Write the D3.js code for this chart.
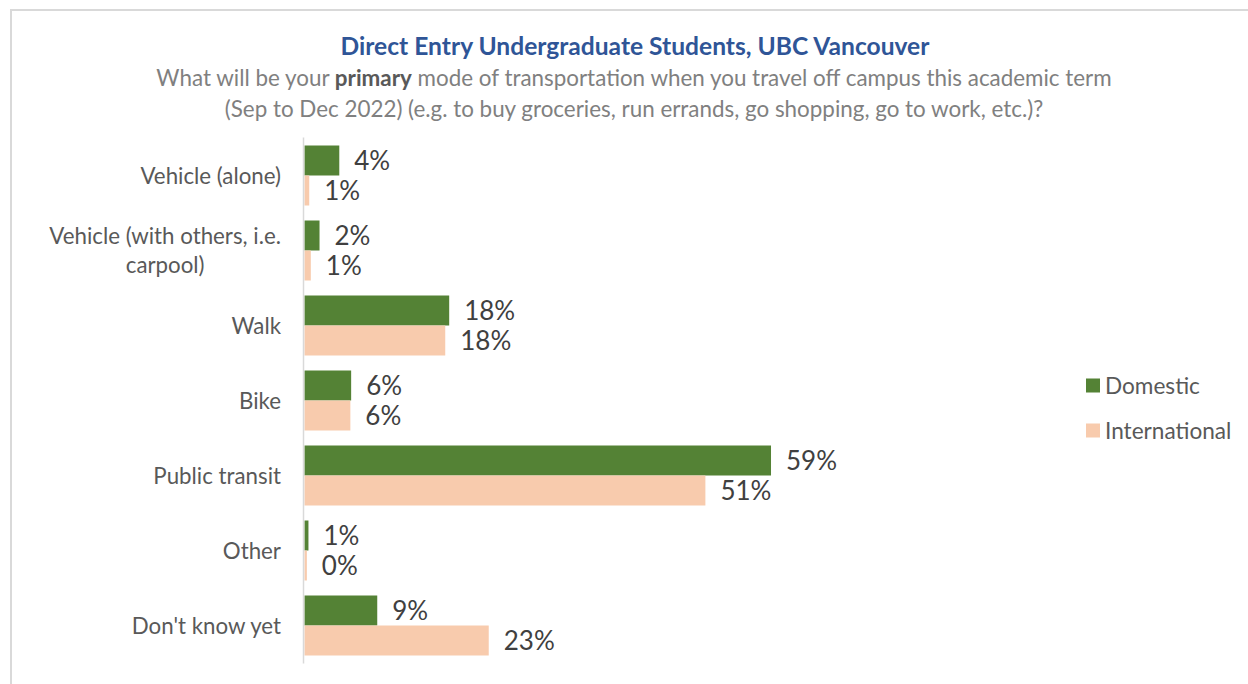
<!DOCTYPE html>
<html>
<head>
<meta charset="utf-8">
<script src="https://cdn.jsdelivr.net/npm/d3@7"></script>
<style>
  html, body { margin: 0; padding: 0; background: #fff; }
  svg { display: block; }
</style>
</head>
<body>
<svg id="chart" width="1248" height="684"></svg>
<script>
const categories = ["Vehicle (alone)", "Vehicle (with others, i.e. carpool)", "Walk", "Bike", "Public transit", "Other", "Don't know yet"];
const categoryLines = [["Vehicle (alone)"], ["Vehicle (with others, i.e.", "carpool)"], ["Walk"], ["Bike"], ["Public transit"], ["Other"], ["Don't know yet"]];
const seriesNames = ["Domestic", "International"];
const domestic = [4.4, 1.9, 18.3, 5.9, 59.0, 0.5, 9.2];
const international = [0.6, 0.8, 17.8, 5.8, 50.7, 0.3, 23.3];
const seriesColors = ["#548235", "#f8cbad"];
const titleText = "Direct Entry Undergraduate Students, UBC Vancouver";
const subtitle1 = ["What will be your ", "primary", " mode of transportation when you travel off campus this academic term"];
const subtitle2 = "(Sep to Dec 2022) (e.g. to buy groceries, run errands, go shopping, go to work, etc.)?";

const FONT = "Lato, 'Open Sans', sans-serif";
const svg = d3.select("#chart");

// border
svg.append("rect").attr("x", 11).attr("y", 10).attr("width", 1300).attr("height", 700)
  .attr("fill", "#fff").attr("stroke", "#d9d9d9").attr("stroke-width", 2);

// titles
svg.append("text").attr("x", 635).attr("y", 55).attr("text-anchor", "middle")
  .attr("font-family", FONT).attr("font-weight", "bold").attr("font-size", 24.6)
  .attr("fill", "#2f5597").text(titleText);

const st1 = svg.append("text").attr("x", 634).attr("y", 86).attr("text-anchor", "middle")
  .attr("font-family", FONT).attr("font-size", 22.4).attr("fill", "#808080");
subtitle1.forEach((s, i) => {
  st1.append("tspan").attr("font-weight", i === 1 ? "bold" : "normal")
    .attr("fill", i === 1 ? "#595959" : "#808080").text(s);
});
svg.append("text").attr("x", 634).attr("y", 117).attr("text-anchor", "middle")
  .attr("font-family", FONT).attr("font-size", 22.4).attr("fill", "#808080").text(subtitle2);

// scales
const y = d3.scaleBand().domain(categories).range([138, 663]).paddingInner(0.2).paddingOuter(0.1);
const y1 = d3.scaleBand().domain(seriesNames).range([0, y.bandwidth()]);
const x = d3.scaleLinear().domain([0, 70]).range([304.5, 304.5 + 70 * 7.907]);

const data = categories.map((c, i) => ({ cat: c, lines: categoryLines[i], vals: [domestic[i], international[i]] }));

const groups = svg.selectAll("g.cat").data(data).join("g").attr("class", "cat")
  .attr("transform", d => `translate(0,${y(d.cat)})`);

groups.selectAll("rect").data(d => d.vals.map((v, j) => ({ v, s: seriesNames[j], j })))
  .join("rect")
  .attr("x", x(0)).attr("y", d => y1(d.s)).attr("width", d => x(d.v) - x(0))
  .attr("height", y1.bandwidth()).attr("fill", d => seriesColors[d.j]);

groups.selectAll("text.lbl").data(d => d.vals.map((v, j) => ({ v, s: seriesNames[j], j })))
  .join("text").attr("class", "lbl")
  .attr("x", d => x(d.v) + 15).attr("y", d => y1(d.s) + y1.bandwidth() / 2)
  .attr("dy", "0.36em").attr("font-family", FONT).attr("font-size", 26).attr("fill", "#404040")
  .text(d => Math.round(d.v) + "%");

// axis line
const yAxis = d3.axisLeft(y).tickSize(0).tickFormat("");
const ax = svg.append("g").attr("transform", "translate(303.5,0)").call(yAxis);
ax.select(".domain").attr("stroke", "#d9d9d9").attr("stroke-width", 1.5).attr("d", "M0,137.5V663.5");

// category labels
const labelRight = 281;
const lineH = 29;
data.forEach(d => {
  const cy = y(d.cat) - y.paddingOuter() * y.step() + y.step() / 2;
  const t = svg.append("text").attr("font-family", FONT).attr("font-size", 22.3).attr("fill", "#595959")
    .attr("text-anchor", "middle");
  const tsp = d.lines.map((ln, k) => t.append("tspan").text(ln));
  const maxW = d3.max(tsp, s => s.node().getComputedTextLength());
  const cx = labelRight - maxW / 2;
  const n = d.lines.length;
  tsp.forEach((s, k) => s.attr("x", cx).attr("y", cy + (k - (n - 1) / 2) * lineH).attr("dy", "0.36em"));
});

// legend
const legend = svg.append("g").selectAll("g").data(seriesNames).join("g")
  .attr("transform", (d, i) => `translate(1086,${385.5 + i * 45})`);
legend.append("rect").attr("x", 0).attr("y", -7).attr("width", 14).attr("height", 14)
  .attr("fill", (d, i) => seriesColors[i]);
legend.append("text").attr("x", 19).attr("y", 0).attr("dy", "0.36em")
  .attr("font-family", FONT).attr("font-size", 22.6).attr("fill", "#595959").text(d => d);
</script>
</body>
</html>
